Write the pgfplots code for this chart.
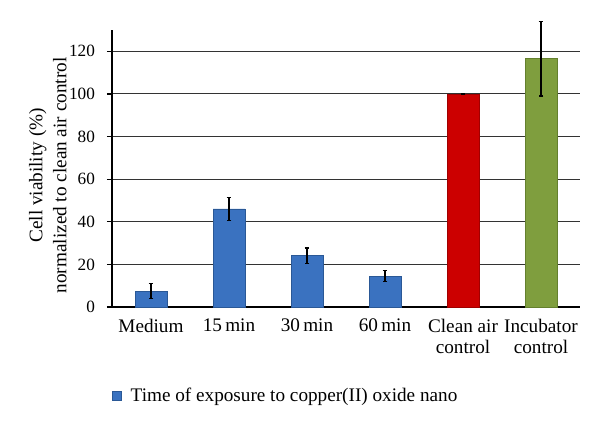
\documentclass[border=0pt]{standalone}
\usepackage{pgfplots}
\pgfplotsset{compat=1.18}
\usepackage{fontspec}
\setmainfont{Liberation Serif}
\definecolor{cblue}{HTML}{3A72C0}
\definecolor{cblueD}{HTML}{2A5896}
\definecolor{cred}{HTML}{CC0000}
\definecolor{credD}{HTML}{A00000}
\definecolor{cgreen}{HTML}{7F9E3E}
\definecolor{cgreenD}{HTML}{64802E}
\pgfplotsset{myerr/.style={error bars/.cd, y dir=both, y explicit,
    error bar style={black, line width=0.6pt},
    error mark options={black, line width=0.6pt, rotate=90, mark size=1.2pt}}}
\begin{document}
\begin{tikzpicture}[font=\fontsize{9.6}{11}\selectfont]
\begin{axis}[
  name=ax,
  scale only axis,
  width=234pt, height=138.5pt,
  xmin=-0.5, xmax=5.5,
  ymin=0, ymax=130,
  clip=false,
  axis x line*=bottom,
  axis y line*=left,
  axis line style={black, line width=0.7pt, -},
  xtick={0,1,2,3,4,5},
  xticklabels={Medium,15\,min,30\,min,60\,min,Clean air\\control,Incubator\\control},
  xticklabel style={align=center, font=\fontsize{9.6}{10.5}\selectfont},
  x tick style={draw=none},
  ytick={0,20,40,60,80,100,120},
  y tick style={black, line width=0.6pt},
  tick align=outside,
  major tick length=2.5pt,
  /pgf/number format/assume math mode=true,
  yticklabel style={font=\fontsize{8.6}{10}\selectfont, xshift=-2.5pt},
  ymajorgrids,
  grid style={black!80, line width=0.5pt},
  ylabel={Cell viability (\%)\\normalized to clean air control},
  ylabel style={align=center, font=\fontsize{9.6}{12}\selectfont, at={([xshift=-22.5pt]axis description cs:0,0.475)}, anchor=south, inner sep=0pt},
  ybar, bar width=16pt, bar shift=0pt,
  legend style={at={(0,0)}, anchor=west, xshift=-3pt, yshift=-44.5pt, draw=none, fill=none, font=\fontsize{9.6}{10.5}\selectfont},
  legend image code/.code={\fill[cblue, draw=cblueD, line width=0.3pt] (0pt,-2.25pt) rectangle (4.5pt,2.25pt); \path[draw=none, fill=none] (0pt,0pt) rectangle (7pt,0.1pt);},
]
\addplot[fill=cblue, draw=cblueD, line width=0.4pt, myerr] coordinates {
  (0,7.5) +- (0,3.5)
  (1,46) +- (0,5.5)
  (2,24) +- (0,3.7)
  (3,14.5) +- (0,2.7)
};
\addlegendentry{Time of exposure to copper(II) oxide nano}
\addplot[fill=cred, draw=credD, line width=0.4pt, forget plot, myerr] coordinates {
  (4,100) +- (0,0.3)
};
\addplot[fill=cgreen, draw=cgreenD, line width=0.4pt, forget plot, myerr] coordinates {
  (5,116.5) +- (0,17.5)
};
\end{axis}
\path ([xshift=-56pt,yshift=-60.5pt]ax.south west) rectangle ([xshift=10pt,yshift=15pt]ax.north east);
\end{tikzpicture}
\end{document}
